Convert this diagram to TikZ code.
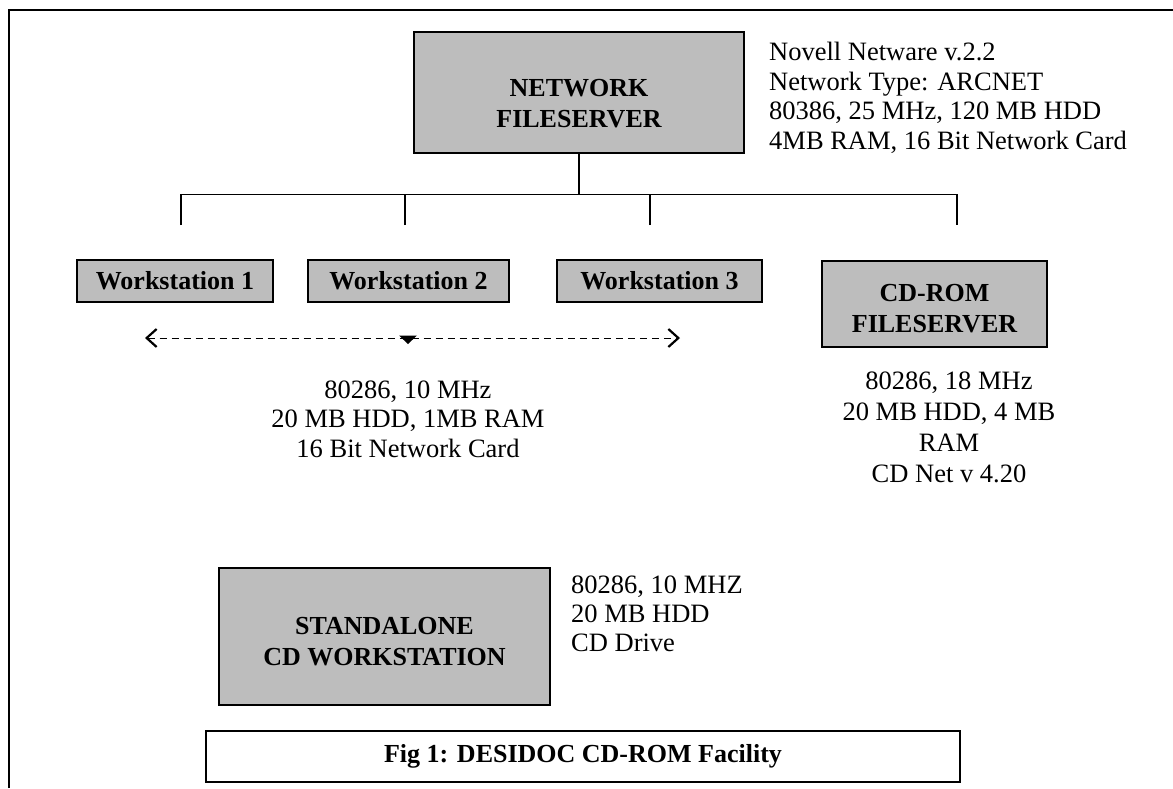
\documentclass[tikz,border=0pt]{standalone}
\usepackage{fontspec}
\setmainfont{Liberation Serif}
\usepackage{tikz}
\usetikzlibrary{positioning,calc,arrows.meta}

\begin{document}
\begin{tikzpicture}[x=1pt,y=-1pt,
  box/.style={draw, line width=1.2pt, fill=black!26, inner sep=0pt},
  boxtext/.style={font=\bfseries\fontsize{26}{31}\selectfont, align=center, inner sep=0pt},
  spec/.style={font=\fontsize{26.5}{29.5}\selectfont, inner sep=0pt},
  wire/.style={line width=1.2pt},
  wstip/.tip={Straight Barb[length=10pt,width=18pt,line width=2.2pt]}]
  \useasboundingbox (0,0) rectangle (1173,788);
  \draw[wire] (9,788) -- (9,10) -- (1173,10);

  \node[box, minimum width=330, minimum height=121] (net) at (579,92.5) {};
  \node[boxtext] (netlabel) at ([yshift=-11pt]net.center) {NETWORK\\FILESERVER};
  \node[spec, anchor=west, align=left] (netinfo) at (769,98) {Novell Netware v.2.2\\Network Type: ARCNET\\80386, 25 MHz, 120 MB HDD\\4MB RAM, 16 Bit Network Card};

  \draw[wire] (net.south) -- ++(0,41) coordinate (hub);
  \coordinate (d1) at (181,225);
  \coordinate (d2) at (405,225);
  \coordinate (d3) at (650,225);
  \coordinate (d4) at (957,225);
  \draw[wire] (d1) |- (hub) -| (d4);
  \draw[wire] (d2) -- (d2 |- hub);
  \draw[wire] (d3) -- (d3 |- hub);

  \node[box, boxtext, minimum width=196, minimum height=42] (ws1) at (175,281) {Workstation 1};
  \node[box, boxtext, minimum width=201, minimum height=42] (ws2) at (408.5,281) {Workstation 2};
  \node[box, boxtext, minimum width=205, minimum height=42] (ws3) at (659.5,281) {Workstation 3};
  \node[box, minimum width=225, minimum height=86] (cdserver) at (934.5,304) {};
  \node[boxtext] (cdlabel) at ([yshift=-5pt]cdserver.center) {CD-ROM\\FILESERVER};

  \coordinate (aL) at (145,338);
  \coordinate (aR) at (680,338);
  \draw[line width=0.9pt, dash pattern=on 7pt off 5pt, wstip-wstip] (aL) -- (aR);
  \fill (399,335.5) -- (417,335.5) -- (408,344) -- cycle;

  \node[spec, align=center] (wsinfo) at (408,419) {80286, 10 MHz\\20 MB HDD, 1MB RAM\\16 Bit Network Card};
  \node[spec, align=center, font=\fontsize{26.5}{31}\selectfont] (cdinfo) at (949,427) {80286, 18 MHz\\20 MB HDD, 4 MB\\RAM\\CD Net v 4.20};

  \node[box, minimum width=331, minimum height=137] (standalone) at (384.5,636.5) {};
  \node[boxtext] (salabel) at ([yshift=-5pt]standalone.center) {STANDALONE\\CD WORKSTATION};
  \node[spec, anchor=west, align=left, font=\fontsize{26.5}{29}\selectfont] (sainfo) at (571,614) {80286, 10 MHZ\\20 MB HDD\\CD Drive};

  \node[draw, line width=1.2pt, minimum width=754, minimum height=51, font=\bfseries\fontsize{26}{30}\selectfont] (caption) at (583,756.5) {Fig 1: DESIDOC CD-ROM Facility};
\end{tikzpicture}
\end{document}
